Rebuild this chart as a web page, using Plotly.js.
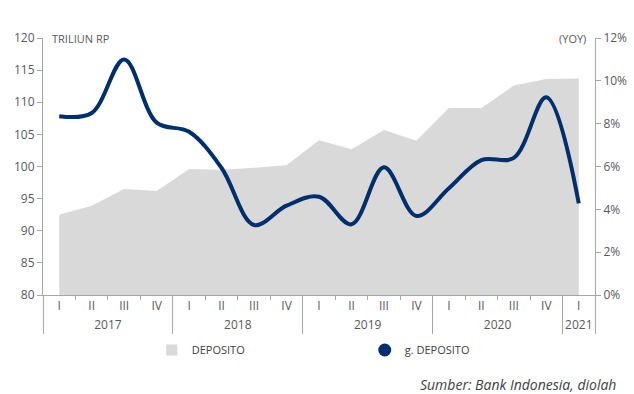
<!DOCTYPE html>
<html>
<head>
<meta charset="utf-8">
<script src="https://cdn.plot.ly/plotly-3.0.1.min.js"></script>
<style>
  html, body { margin: 0; padding: 0; background: #fff; }
  #chart { width: 634px; height: 394px; }
</style>
</head>
<body>
<div id="chart"></div>
<script>
const years = ['2017','2017','2017','2017','2018','2018','2018','2018','2019','2019','2019','2019','2020','2020','2020','2020','2021'];
const quarters = ['I','II','III','IV','I','II','III','IV','I','II','III','IV','I','II','III','IV','I'];
const deposito = [92.5, 93.9, 96.5, 96.2, 99.6, 99.5, 99.8, 100.2, 104.1, 102.7, 105.7, 104.0, 109.1, 109.1, 112.6, 113.6, 113.7];
const gDeposito = [8.35, 8.5, 11.0, 8.05, 7.62, 5.93, 3.27, 4.17, 4.59, 3.3, 5.96, 3.69, 4.98, 6.3, 6.4, 9.23, 4.28];
const seriesNames = ['DEPOSITO', 'g. DEPOSITO'];

const FONT = 'Open Sans, Noto Sans, sans-serif';
const GRAY_TXT = '#595959';
const AXIS_CLR = '#a6a6a6';
const AREA_CLR = '#d9d9d9';
const LINE_CLR = '#002f6c';

const xCat = [years, quarters];

const traces = [
  {
    x: xCat, y: deposito, type: 'scatter', mode: 'lines',
    fill: 'tozeroy', fillcolor: AREA_CLR, line: {width: 0, color: AREA_CLR},
    name: seriesNames[0], showlegend: false, yaxis: 'y', hoverinfo: 'skip'
  },
  {
    x: xCat, y: gDeposito, type: 'scatter', mode: 'lines',
    line: {color: LINE_CLR, width: 4, shape: 'spline', smoothing: 1},
    name: seriesNames[1], showlegend: false, yaxis: 'y2'
  },
  {
    x: [[years[0]], [quarters[0]]], y: [null], type: 'scatter', mode: 'markers',
    marker: {symbol: 'square', size: 11, color: AREA_CLR},
    name: seriesNames[0], showlegend: true
  },
  {
    x: [[years[0]], [quarters[0]]], y: [null], type: 'scatter', mode: 'markers',
    marker: {symbol: 'circle', size: 13, color: LINE_CLR},
    name: seriesNames[1], showlegend: true
  }
];

const layout = {
  width: 634, height: 394,
  margin: {l: 43, r: 39, t: 38, b: 99},
  paper_bgcolor: '#fff', plot_bgcolor: '#fff',
  font: {family: FONT, size: 12, color: GRAY_TXT},
  showlegend: true,
  xaxis: {
    type: 'multicategory', range: [-0.5, 16.5], autorange: false,
    showline: true, linecolor: AXIS_CLR, linewidth: 1,
    ticks: 'outside', ticklen: 4, tickcolor: AXIS_CLR, tickson: 'boundaries',
    showdividers: true, dividercolor: AXIS_CLR, dividerwidth: 1,
    tickfont: {family: FONT, size: 12, color: GRAY_TXT},
    showgrid: false, zeroline: false, fixedrange: true
  },
  yaxis: {
    range: [80, 120], dtick: 5, showline: true, linecolor: AXIS_CLR,
    ticks: 'outside', ticklen: 5, tickcolor: AXIS_CLR,
    showgrid: false, zeroline: false,
    tickfont: {family: FONT, size: 12, color: GRAY_TXT}
  },
  yaxis2: {
    range: [0, 12], dtick: 2, ticksuffix: '%', overlaying: 'y', side: 'right',
    showline: true, linecolor: AXIS_CLR,
    ticks: 'outside', ticklen: 5, tickcolor: AXIS_CLR,
    showgrid: false, zeroline: false,
    tickfont: {family: FONT, size: 12, color: GRAY_TXT}
  },
  legend: {
    orientation: 'h', x: 0.197, xanchor: 'left', y: -0.214, yanchor: 'middle',
    entrywidth: 168, entrywidthmode: 'pixels',
    font: {family: FONT, size: 11, color: '#404040'},
    bgcolor: 'rgba(0,0,0,0)'
  },
  annotations: [
    {text: 'TRILIUN RP', xref: 'paper', yref: 'paper', x: 0.012, y: 1, xanchor: 'left', yanchor: 'middle',
     showarrow: false, font: {family: FONT, size: 11, color: GRAY_TXT}},
    {text: '(YOY)', xref: 'paper', yref: 'paper', x: 0.988, y: 1, xanchor: 'right', yanchor: 'middle',
     showarrow: false, font: {family: FONT, size: 11, color: GRAY_TXT}},
    {text: '<i>Sumber: Bank Indonesia, diolah</i>', xref: 'paper', yref: 'paper', x: 1.042, y: -0.35,
     xanchor: 'right', yanchor: 'middle', showarrow: false,
     font: {family: FONT, size: 14, color: '#404040'}}
  ]
};

Plotly.newPlot('chart', traces, layout, {displayModeBar: false, staticPlot: true});
</script>
</body>
</html>
